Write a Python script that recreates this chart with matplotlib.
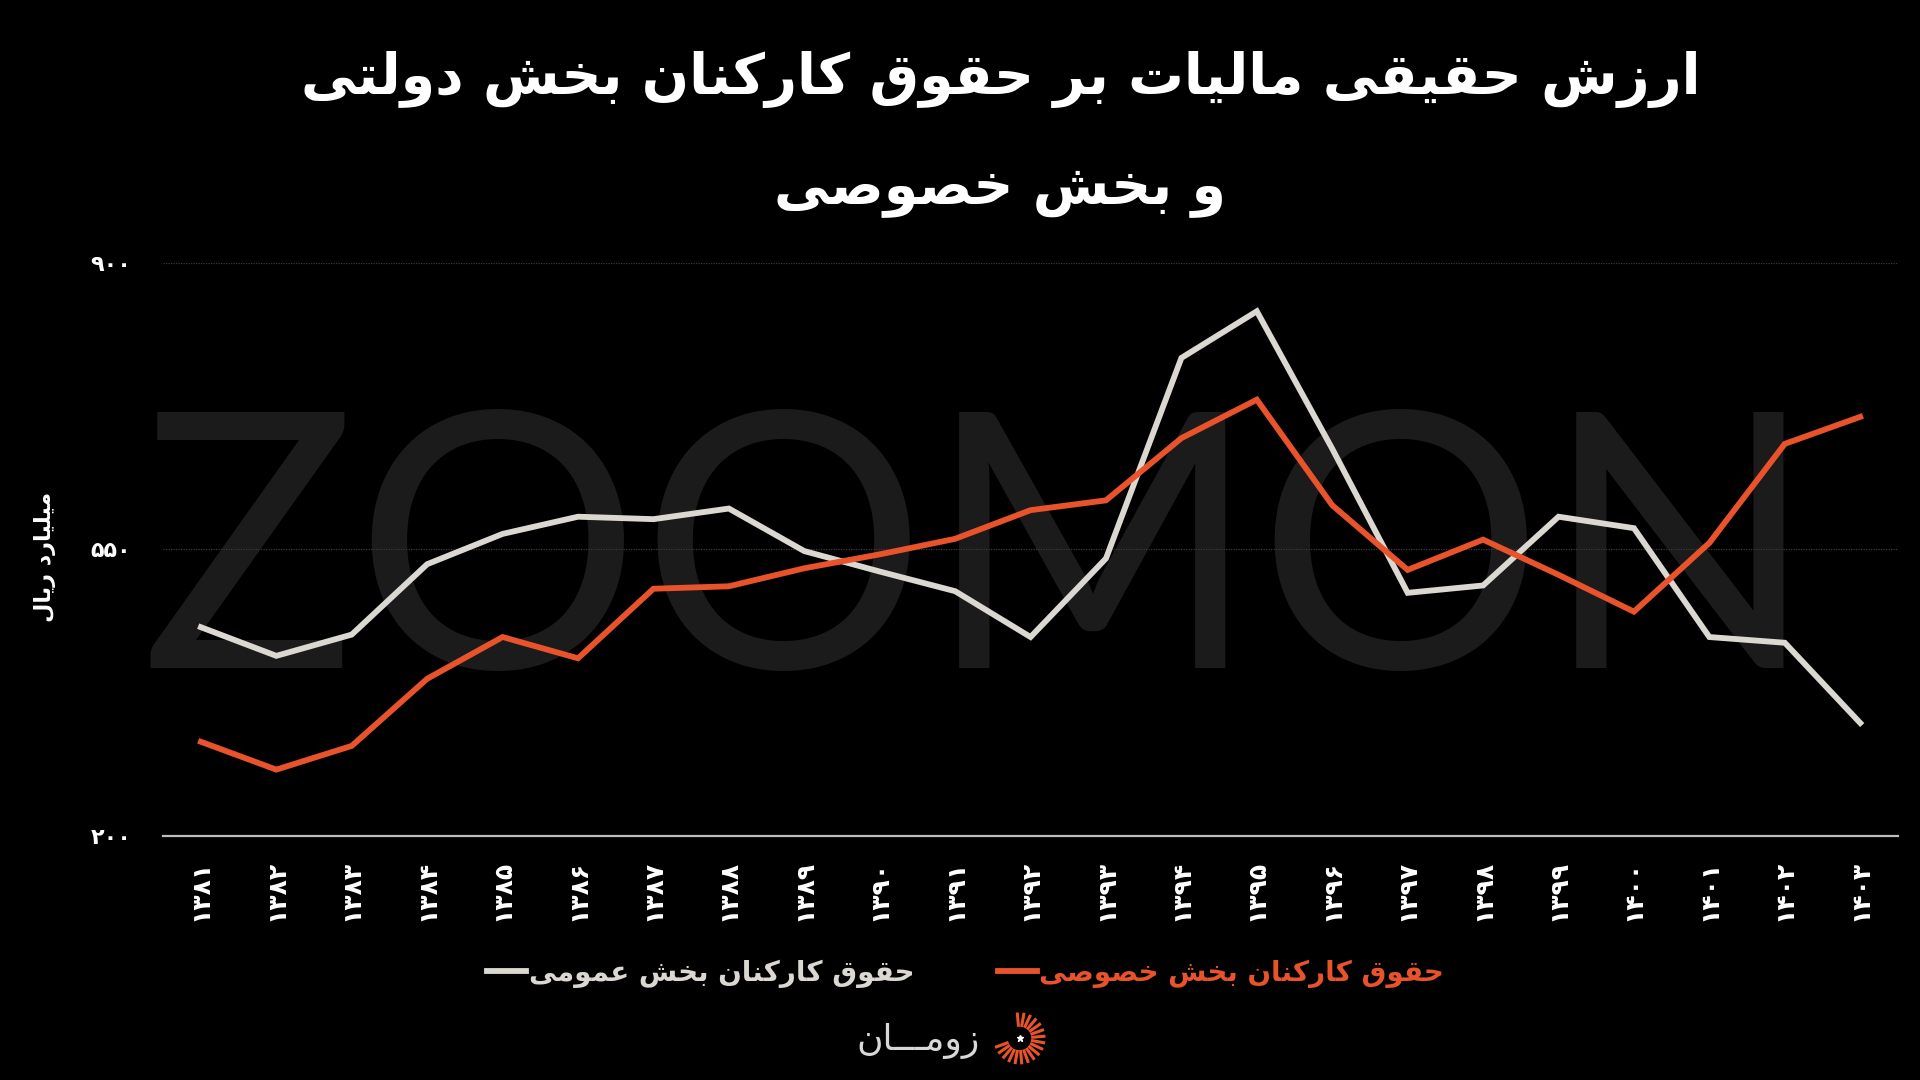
import numpy as np
import matplotlib
matplotlib.use('Agg')
import matplotlib.pyplot as plt

# داده ها - ارزش حقیقی مالیات بر حقوق (میلیارد ریال)
years = [1381, 1382, 1383, 1384, 1385, 1386, 1387, 1388, 1389, 1390, 1391, 1392,
         1393, 1394, 1395, 1396, 1397, 1398, 1399, 1400, 1401, 1402, 1403]
public = [455, 420, 446, 532, 569, 590, 587, 600, 548, 523, 499, 443,
          539, 784, 841, 673, 497, 506, 590, 576, 443, 436, 338]
private = [315, 281, 310, 392, 443, 417, 502, 505, 527, 544, 563, 598,
           610, 686, 733, 604, 525, 562, 519, 474, 558, 679, 712]
y_ticks = [200, 550, 900]

title_lines = ['ارزش حقیقی مالیات بر حقوق کارکنان بخش دولتی', 'و بخش خصوصی']
label_public = 'حقوق کارکنان بخش عمومی'
label_private = 'حقوق کارکنان بخش خصوصی'
y_title = 'میلیارد ریال'
brand = 'زومـــان'
watermark = 'ZOOMON'

GRAY = '#dbd7d1'
ORANGE = '#e9532b'

# matplotlib حروف فارسی را به هم نمی چسباند، پس شکل ها را دستی انتخاب میکنیم
FORMS = {
    'ا': ('\uFE8D', '\uFE8E', None, None),
    'ب': ('\uFE8F', '\uFE90', '\uFE91', '\uFE92'),
    'ت': ('\uFE95', '\uFE96', '\uFE97', '\uFE98'),
    'ح': ('\uFEA1', '\uFEA2', '\uFEA3', '\uFEA4'),
    'خ': ('\uFEA5', '\uFEA6', '\uFEA7', '\uFEA8'),
    'د': ('\uFEA9', '\uFEAA', None, None),
    'ر': ('\uFEAD', '\uFEAE', None, None),
    'ز': ('\uFEAF', '\uFEB0', None, None),
    'ش': ('\uFEB5', '\uFEB6', '\uFEB7', '\uFEB8'),
    'ص': ('\uFEB9', '\uFEBA', '\uFEBB', '\uFEBC'),
    'ع': ('\uFEC9', '\uFECA', '\uFECB', '\uFECC'),
    'ق': ('\uFED5', '\uFED6', '\uFED7', '\uFED8'),
    'ل': ('\uFEDD', '\uFEDE', '\uFEDF', '\uFEE0'),
    'م': ('\uFEE1', '\uFEE2', '\uFEE3', '\uFEE4'),
    'ن': ('\uFEE5', '\uFEE6', '\uFEE7', '\uFEE8'),
    'و': ('\uFEED', '\uFEEE', None, None),
    'ک': ('\uFB8E', '\uFB8F', '\uFB90', '\uFB91'),
    'ی': ('\uFBFC', '\uFBFD', '\uFBFE', '\uFBFF'),
    '\u0640': ('\u0640', '\u0640', '\u0640', '\u0640'),
}


def fa(text):
    text = text.replace('\u064A', '\u06CC').replace('\u0643', '\u06A9')
    out = []
    for i, ch in enumerate(text):
        f = FORMS.get(ch)
        if f is None:
            out.append(ch)
            continue
        prev = text[i - 1] if i > 0 else ''
        nxt = text[i + 1] if i + 1 < len(text) else ''
        jp = prev in FORMS and FORMS[prev][2] is not None
        jn = f[2] is not None and nxt in FORMS
        if jp and jn:
            out.append(f[3])
        elif jp:
            out.append(f[1])
        elif jn:
            out.append(f[2])
        else:
            out.append(f[0])
    return ''.join(out)[::-1]


def fa_num(n):
    return str(n).translate(str.maketrans('0123456789', '۰۱۲۳۴۵۶۷۸۹'))


plt.rcParams['font.family'] = ['DejaVu Sans']

fig = plt.figure(figsize=(19.2, 10.8), dpi=100, facecolor='black')
ax = fig.add_axes([0.085, 0.226, 0.9035, 0.5305])
ax.set_facecolor('black')

x = np.arange(len(years))
ax.plot(x, public, color=GRAY, lw=4.2, solid_joinstyle='miter', zorder=3, label=fa(label_public))
ax.plot(x, private, color=ORANGE, lw=4.2, solid_joinstyle='miter', zorder=4, label=fa(label_private))

ax.set_xlim(-0.5, len(years) - 0.5)
ax.set_ylim(200, 900)
ax.set_yticks(y_ticks, labels=[fa_num(v) for v in y_ticks])
ax.set_xticks(x, labels=[fa_num(v) for v in years])
for v in y_ticks[1:]:
    ax.axhline(v, color='#3a3a3a', lw=0.9, ls=(0, (1, 1)), zorder=1)

for s in ['top', 'right', 'left']:
    ax.spines[s].set_visible(False)
ax.spines['bottom'].set_color('#bdbdbd')
ax.spines['bottom'].set_linewidth(1.6)

ax.tick_params(axis='y', length=0, pad=23, labelsize=16, labelcolor='white')
ax.tick_params(axis='x', length=0, pad=17, labelsize=18, labelcolor='white', labelrotation=90)
for t in ax.get_yticklabels() + ax.get_xticklabels():
    t.set_fontweight('bold')

# واترمارک
ax.text(0.47, 0.47, watermark, transform=ax.transAxes, ha='center', va='center',
        fontsize=257, family=['Lato', 'DejaVu Sans'], fontweight='normal',
        color='#1b1b1b', zorder=0)

fig.text(0.0235, 0.484, fa(y_title), rotation=90, ha='center', va='center',
         color='white', fontsize=16, fontweight='bold')

fig.text(0.521, 0.926, fa(title_lines[0]), ha='center', va='center',
         color='white', fontsize=40, fontweight='bold')
fig.text(0.521, 0.824, fa(title_lines[1]), ha='center', va='center',
         color='white', fontsize=40, fontweight='bold')

leg = fig.legend(loc='center', bbox_to_anchor=(0.503, 0.099), ncol=2, frameon=False,
                 handlelength=1.4, handletextpad=0.1, columnspacing=3.0,
                 labelcolor='linecolor', prop={'weight': 'bold', 'size': 20})

# لوگو
fig.text(0.478, 0.036, fa(brand), ha='center', va='center', color='#d8d8d8', fontsize=26)
lax = fig.add_axes([0.516, 0.012, 0.03, 0.053])
lax.set_aspect('equal')
lax.axis('off')
for a in np.linspace(-160, 95, 18):
    r = np.deg2rad(a)
    lax.plot([0.45 * np.cos(r), np.cos(r)], [0.45 * np.sin(r), np.sin(r)],
             color=ORANGE, lw=2.2, solid_capstyle='butt')
lax.plot([0], [0], marker='*', color='white', ms=5)
lax.set_xlim(-1.1, 1.1)
lax.set_ylim(-1.1, 1.1)

fig.savefig('out.png', dpi=100, facecolor='black')
